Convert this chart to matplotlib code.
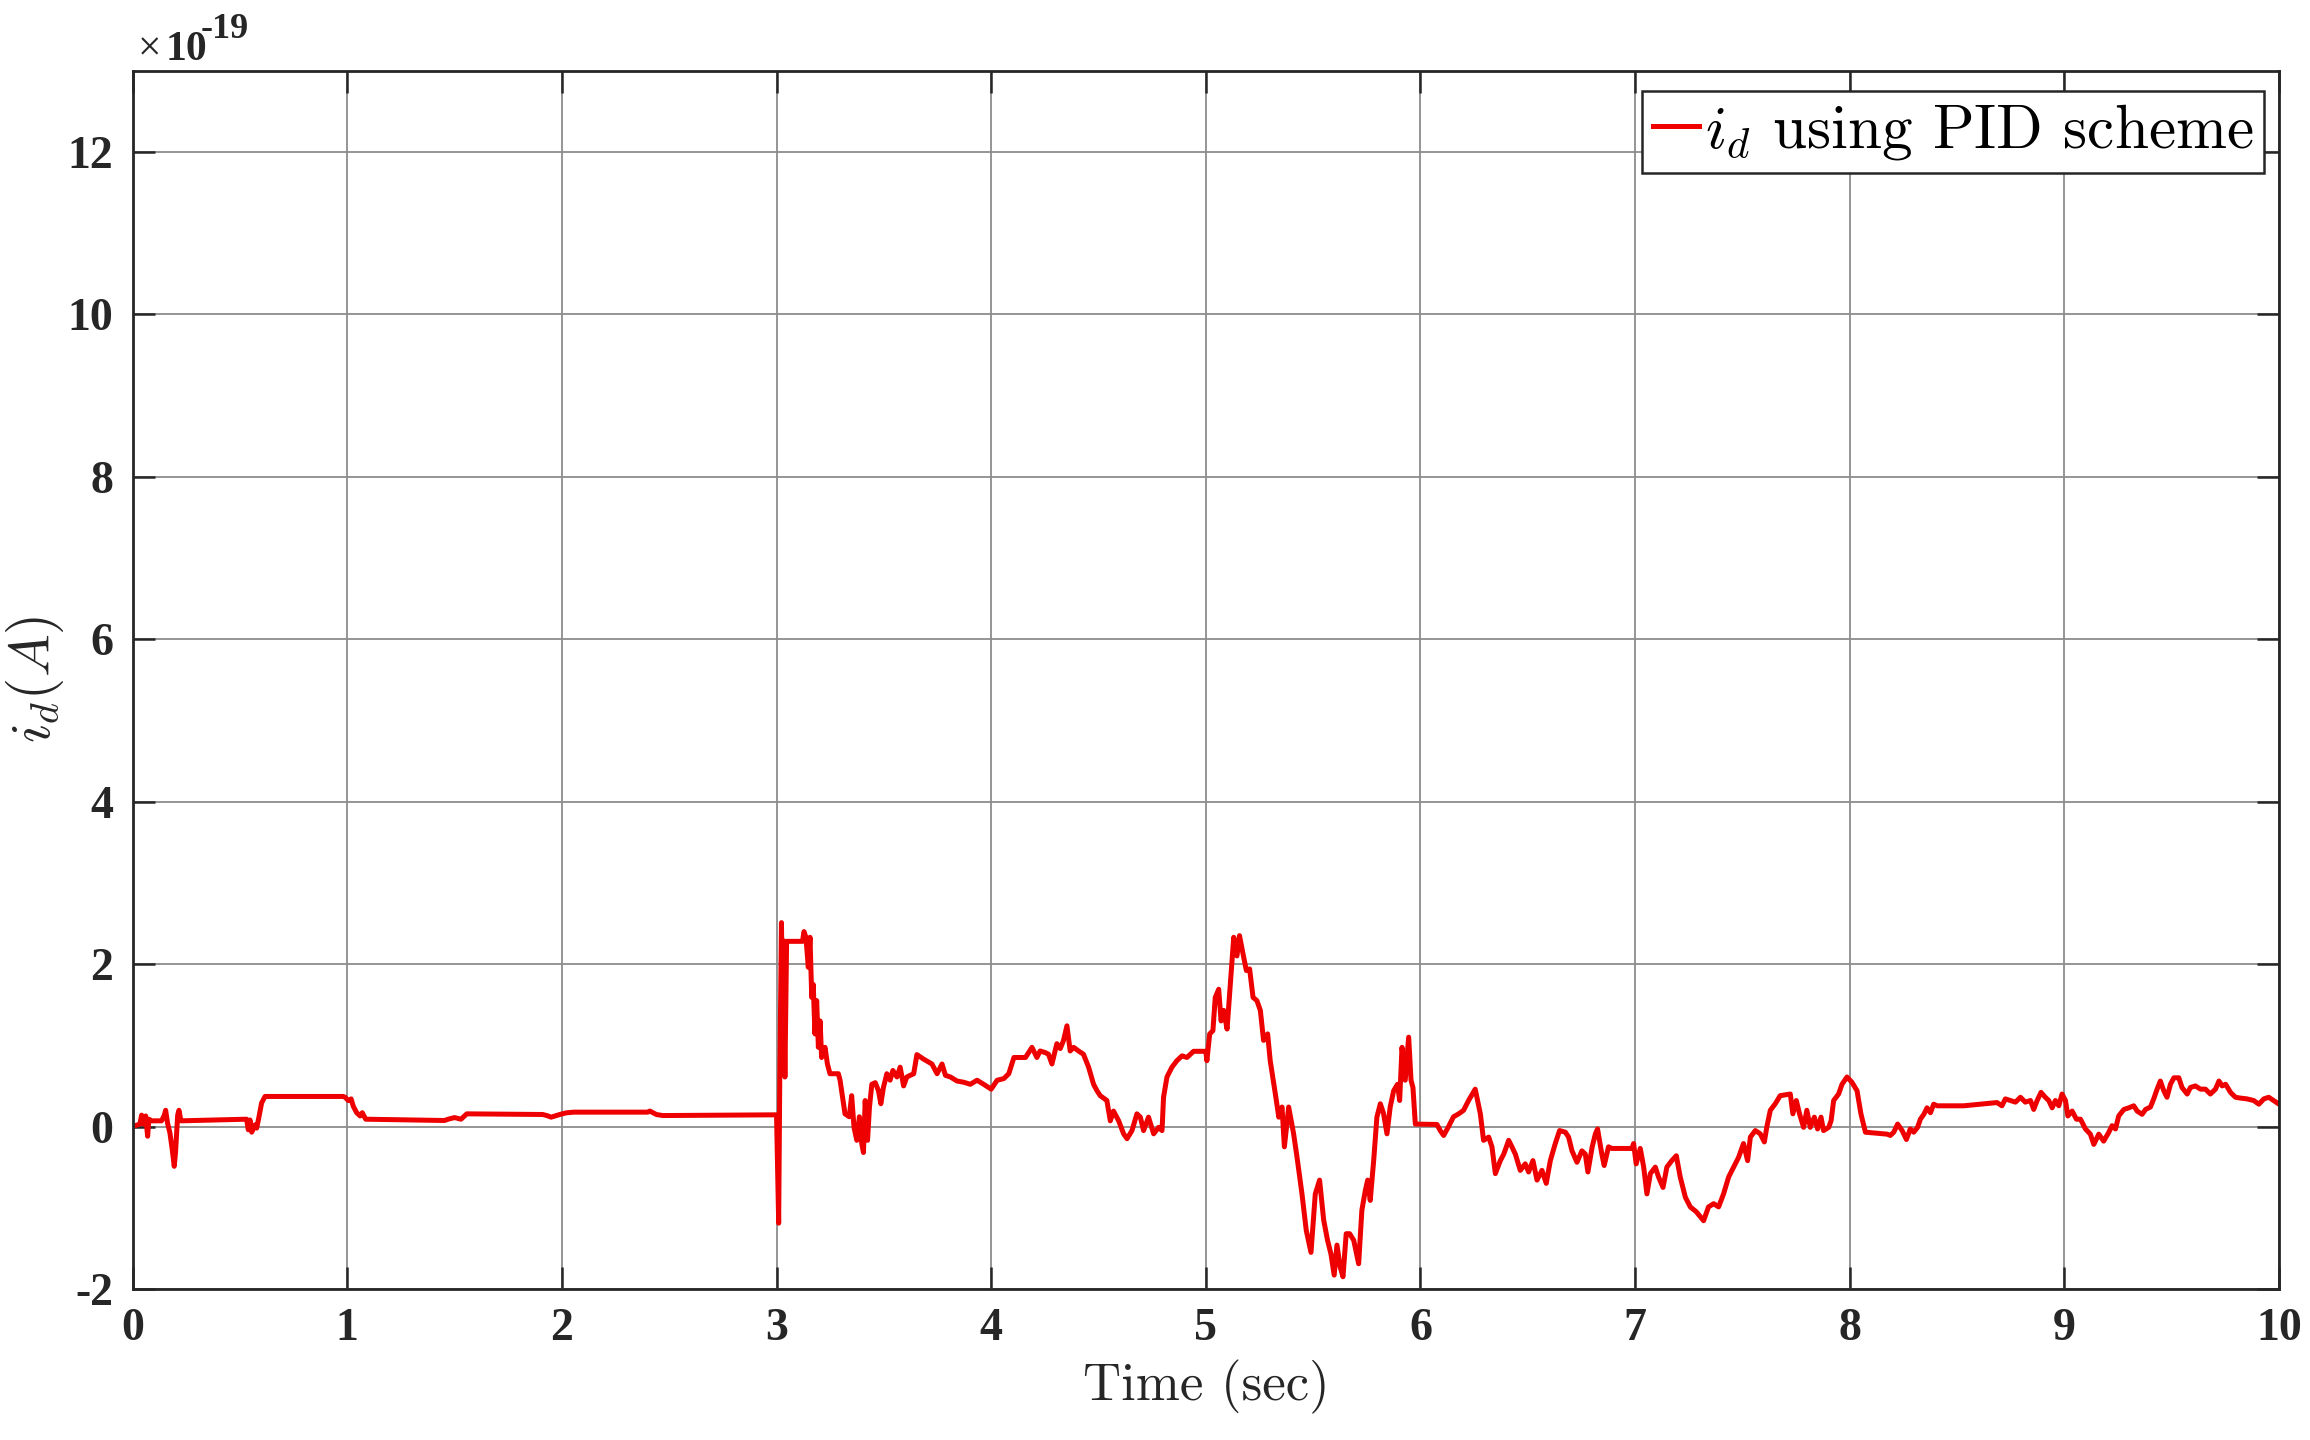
import numpy as np
import matplotlib
matplotlib.use('Agg')
import matplotlib.pyplot as plt

# i_d trace (time in s, current in units of 1e-19 A)
t_sec = [0.0, 0.034, 0.042, 0.05, 0.061, 0.07, 0.076, 0.089, 0.135, 0.148, 0.154, 0.163,
         0.174, 0.185, 0.194, 0.2, 0.21, 0.216, 0.225, 0.531, 0.539, 0.547, 0.555, 0.57,
         0.578, 0.586, 0.601, 0.617, 0.632, 0.982, 0.99, 1.005, 1.018, 1.028, 1.044, 1.06,
         1.07, 1.086, 1.453, 1.47, 1.50, 1.53, 1.557, 1.91, 1.93, 1.95, 1.99, 2.02, 2.055,
         2.40, 2.41, 2.44, 2.47, 2.99, 3.0, 3.01, 3.015, 3.023, 3.028, 3.031, 3.039, 3.047,
         3.121, 3.128, 3.137, 3.148, 3.156, 3.164, 3.171, 3.179, 3.187, 3.195, 3.203, 3.210,
         3.226, 3.237, 3.249, 3.288, 3.296, 3.319, 3.339, 3.350, 3.361, 3.374, 3.386, 3.397,
         3.405, 3.413, 3.424, 3.433, 3.444, 3.46, 3.475, 3.486, 3.498, 3.514, 3.529, 3.542,
         3.561, 3.576, 3.592, 3.607, 3.639, 3.654, 3.685, 3.724, 3.748, 3.771, 3.787, 3.81,
         3.841, 3.872, 3.903, 3.934, 3.965, 4.0, 4.028, 4.059, 4.082, 4.106, 4.16, 4.19,
         4.213, 4.228, 4.252, 4.267, 4.283, 4.306, 4.322, 4.337, 4.353, 4.368, 4.384, 4.407,
         4.43, 4.454, 4.477, 4.493, 4.508, 4.539, 4.555, 4.57, 4.594, 4.617, 4.633, 4.656,
         4.679, 4.695, 4.71, 4.733, 4.757, 4.78, 4.796, 4.803, 4.819, 4.842, 4.865, 4.889,
         4.912, 4.943, 5.0, 5.005, 5.018, 5.033, 5.044, 5.06, 5.071, 5.083, 5.099, 5.114,
         5.13, 5.145, 5.157, 5.173, 5.189, 5.204, 5.22, 5.238, 5.254, 5.269, 5.288, 5.3,
         5.324, 5.34, 5.355, 5.366, 5.386, 5.409, 5.425, 5.448, 5.468, 5.49, 5.51, 5.53,
         5.549, 5.567, 5.583, 5.598, 5.611, 5.626, 5.639, 5.654, 5.67, 5.689, 5.712, 5.727,
         5.743, 5.754, 5.766, 5.782, 5.797, 5.813, 5.828, 5.844, 5.859, 5.875, 5.893, 5.903,
         5.914, 5.929, 5.945, 5.956, 5.965, 5.976, 6.077, 6.092, 6.108, 6.131, 6.154, 6.178,
         6.201, 6.224, 6.255, 6.279, 6.294, 6.318, 6.333, 6.349, 6.372, 6.388, 6.411, 6.426,
         6.442, 6.465, 6.488, 6.504, 6.524, 6.543, 6.566, 6.586, 6.605, 6.628, 6.648, 6.675,
         6.69, 6.706, 6.729, 6.752, 6.768, 6.78, 6.8, 6.815, 6.825, 6.845, 6.856, 6.876,
         6.892, 6.985, 6.993, 7.005, 7.024, 7.04, 7.055, 7.071, 7.094, 7.109, 7.13, 7.148,
         7.171, 7.192, 7.21, 7.234, 7.257, 7.285, 7.319, 7.342, 7.366, 7.389, 7.412, 7.436,
         7.459, 7.482, 7.505, 7.524, 7.537, 7.56, 7.583, 7.602, 7.614, 7.63, 7.653, 7.676,
         7.723, 7.735, 7.751, 7.766, 7.785, 7.8, 7.816, 7.835, 7.85, 7.866, 7.878, 7.902,
         7.913, 7.925, 7.948, 7.964, 7.987, 8.01, 8.034, 8.052, 8.073, 8.174, 8.189, 8.205,
         8.223, 8.244, 8.264, 8.282, 8.298, 8.316, 8.329, 8.345, 8.36, 8.376, 8.391, 8.407,
         8.531, 8.686, 8.709, 8.725, 8.748, 8.772, 8.795, 8.818, 8.842, 8.857, 8.873, 8.891,
         8.911, 8.927, 8.943, 8.958, 8.974, 8.989, 9.005, 9.016, 9.036, 9.056, 9.075, 9.098,
         9.121, 9.137, 9.16, 9.183, 9.207, 9.222, 9.238, 9.253, 9.277, 9.3, 9.323, 9.339,
         9.362, 9.378, 9.401, 9.416, 9.432, 9.447, 9.463, 9.478, 9.494, 9.51, 9.533, 9.548,
         9.572, 9.587, 9.61, 9.634, 9.657, 9.68, 9.704, 9.72, 9.735, 9.751, 9.774, 9.797,
         9.82, 9.851, 9.882, 9.906, 9.929, 9.952, 9.975, 10.0]
i_d = [0.0, 0.03, 0.14, 0.03, 0.13, -0.12, 0.09, 0.07, 0.07, 0.14, 0.2, 0.04,
       -0.08, -0.29, -0.49, -0.32, 0.14, 0.2, 0.07, 0.09, -0.04, 0.08, -0.07, 0.02,
       -0.02, 0.08, 0.29, 0.37, 0.37, 0.37, 0.36, 0.32, 0.34, 0.25, 0.17, 0.13,
       0.17, 0.09, 0.074, 0.09, 0.11, 0.09, 0.156, 0.148, 0.135, 0.115, 0.148, 0.168, 0.177,
       0.177, 0.19, 0.148, 0.135, 0.144, 0.144, -1.19, 0.57, 2.51, 1.34, 2.29, 0.61, 2.28,
       2.28, 2.40, 2.33, 1.96, 2.33, 1.59, 1.75, 1.14, 1.55, 0.975, 1.30, 0.85,
       0.975, 0.77, 0.65, 0.65, 0.57, 0.156, 0.12, 0.38, -0.01, -0.17, 0.12, -0.21,
       -0.32, 0.32, -0.17, 0.24, 0.52, 0.54, 0.44, 0.28, 0.48, 0.65, 0.57, 0.69,
       0.61, 0.73, 0.50, 0.61, 0.65, 0.885, 0.83, 0.77, 0.65, 0.77, 0.63, 0.61,
       0.56, 0.545, 0.52, 0.57, 0.52, 0.46, 0.57, 0.59, 0.65, 0.85, 0.85, 0.975,
       0.85, 0.93, 0.91, 0.89, 0.77, 1.02, 0.96, 1.06, 1.24, 0.93, 0.975, 0.93,
       0.89, 0.73, 0.52, 0.44, 0.38, 0.32, 0.07, 0.19, 0.07, -0.09, -0.15, -0.05,
       0.156, 0.115, -0.05, 0.115, -0.09, -0.01, -0.05, 0.36, 0.61, 0.73, 0.81, 0.87,
       0.85, 0.926, 0.926, 0.81, 1.14, 1.18, 1.59, 1.69, 1.30, 1.43, 1.20, 1.75,
       2.33, 2.10, 2.35, 2.13, 1.92, 1.94, 1.59, 1.55, 1.43, 1.06, 1.14, 0.81,
       0.40, 0.115, 0.24, -0.25, 0.24, -0.09, -0.38, -0.83, -1.28, -1.55, -0.83, -0.66,
       -1.15, -1.40, -1.57, -1.83, -1.46, -1.73, -1.85, -1.32, -1.32, -1.40, -1.69, -1.03,
       -0.79, -0.66, -0.91, -0.42, 0.115, 0.28, 0.16, -0.09, 0.24, 0.44, 0.52, 0.32,
       0.975, 0.57, 1.10, 0.57, 0.48, 0.03, 0.025, -0.05, -0.11, 0.0, 0.12, 0.156,
       0.20, 0.32, 0.46, 0.156, -0.17, -0.13, -0.25, -0.58, -0.42, -0.34, -0.17, -0.25,
       -0.34, -0.54, -0.46, -0.56, -0.42, -0.66, -0.54, -0.70, -0.42, -0.21, -0.05, -0.07,
       -0.13, -0.30, -0.44, -0.30, -0.34, -0.56, -0.25, -0.09, -0.03, -0.34, -0.48, -0.25,
       -0.27, -0.27, -0.21, -0.46, -0.27, -0.50, -0.83, -0.58, -0.50, -0.62, -0.75, -0.50,
       -0.42, -0.36, -0.62, -0.87, -0.99, -1.05, -1.16, -0.99, -0.95, -0.99, -0.83, -0.62,
       -0.50, -0.38, -0.21, -0.42, -0.13, -0.05, -0.09, -0.19, 0.0, 0.20, 0.28, 0.38,
       0.40, 0.156, 0.32, 0.156, -0.01, 0.20, -0.01, 0.115, -0.03, 0.115, -0.05, -0.01,
       0.07, 0.32, 0.40, 0.52, 0.61, 0.545, 0.44, 0.156, -0.07, -0.094, -0.11, -0.07,
       0.03, -0.05, -0.16, -0.03, -0.07, -0.01, 0.09, 0.15, 0.23, 0.17, 0.275, 0.255,
       0.255, 0.295, 0.255, 0.34, 0.32, 0.30, 0.36, 0.30, 0.32, 0.21, 0.32, 0.42,
       0.36, 0.32, 0.23, 0.32, 0.255, 0.40, 0.32, 0.13, 0.19, 0.09, 0.09, -0.03,
       -0.094, -0.22, -0.094, -0.18, -0.07, 0.01, -0.03, 0.13, 0.21, 0.23, 0.255, 0.19,
       0.15, 0.21, 0.24, 0.34, 0.46, 0.56, 0.44, 0.36, 0.52, 0.60, 0.60, 0.48,
       0.40, 0.48, 0.50, 0.46, 0.46, 0.40, 0.46, 0.56, 0.50, 0.52, 0.42, 0.36,
       0.35, 0.34, 0.32, 0.275, 0.34, 0.36, 0.32, 0.275]

x_ticks = [0, 1, 2, 3, 4, 5, 6, 7, 8, 9, 10]
y_ticks = [-2, 0, 2, 4, 6, 8, 10, 12]
legend_label = r'$i_d$ using PID scheme'

plt.rcParams['mathtext.fontset'] = 'cm'
plt.rcParams['axes.unicode_minus'] = False

fig = plt.figure(figsize=(23.1, 14.4), dpi=100)
ax = fig.add_axes([0.0574, 0.1049, 0.9292, 0.8460])

ax.plot(t_sec, i_d, color='#ee0000', linewidth=3.6, label=legend_label)

ax.set_xlim(0, 10)
ax.set_ylim(-2, 13)
ax.set_xticks(x_ticks)
ax.set_yticks(y_ticks)
ax.set_xticklabels([str(v) for v in x_ticks])
ax.set_yticklabels([str(v) for v in y_ticks])

ax.grid(True, color='#8c8c8c', linewidth=1.3)
ax.set_axisbelow(True)
for s in ax.spines.values():
    s.set_color('#262626')
    s.set_linewidth(2.0)
ax.tick_params(direction='in', length=16, width=1.8, color='#262626',
               top=True, right=True, labelsize=33, pad=14)
for lab in ax.get_xticklabels() + ax.get_yticklabels():
    lab.set_fontfamily('Liberation Serif')
    lab.set_fontweight('bold')
    lab.set_color('#262626')

ax.set_xlabel('Time (sec)', fontfamily='cmr10', fontsize=38, color='#262626')
ax.xaxis.set_label_coords(0.5, -0.058)
ax.set_ylabel(r'$i_d(A)$', fontsize=41, color='#262626')
ax.yaxis.set_label_coords(-0.031, 0.5)

# exponent label above the axes
fig.text(0.0597, 0.9583, '\u00d7', fontfamily='Liberation Serif', fontsize=30,
         va='baseline', color='#262626')
fig.text(0.0719, 0.9583, '10', fontfamily='Liberation Serif', fontweight='bold',
         fontsize=30, va='baseline', color='#262626')
fig.text(0.0870, 0.9736, '-19', fontfamily='Liberation Serif', fontweight='bold',
         fontsize=26, va='baseline', color='#262626')

leg = ax.legend(loc='upper right', bbox_to_anchor=(0.9932, 0.9836), borderaxespad=0,
                fancybox=False, framealpha=1, edgecolor='#262626',
                prop={'family': 'cmr10', 'size': 44}, handlelength=0.75,
                handletextpad=0.1, borderpad=0.18)
leg.get_frame().set_linewidth(1.8)

fig.savefig('out.png', dpi=100)
